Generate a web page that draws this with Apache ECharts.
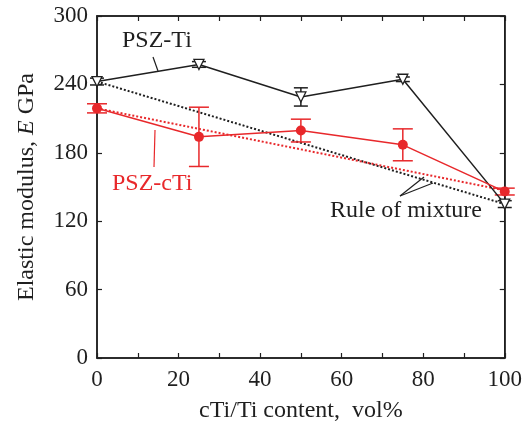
<!DOCTYPE html>
<html><head><meta charset="utf-8">
<script src="https://cdn.jsdelivr.net/npm/echarts@6/dist/echarts.min.js"></script>
<style>html,body{margin:0;padding:0;background:#fff}#c{width:525px;height:430px}</style>
</head><body><div id="c"></div>
<script>
const xValues = [0, 25, 50, 75, 100];
const tiE = [242.5, 257.5, 229, 244.5, 135];
const tiErr = [3, 2.5, 8, 2, 3];
const ctiE = [219, 194, 199.5, 187, 146];
const ctiErr = [4, 26, 10, 14, 3];
const mixTi = [[0, 242.5], [100, 135]];
const mixCti = [[0, 219], [100, 147]];
const xTicks = [0, 20, 40, 60, 80, 100];
const yTicks = [0, 60, 120, 180, 240, 300];

const BLACK = '#1f1f1f', RED = '#e8282b';
const FONT = 'Liberation Serif';

function pts(vals) { return xValues.map((x, i) => [x, vals[i]]); }
function errData(vals, errs) { return xValues.map((x, i) => [x, vals[i] - errs[i], vals[i] + errs[i]]); }
function errSeries(vals, errs, color, cap) {
  return {
    type: 'custom', z: 3, silent: true, clip: false,
    data: errData(vals, errs),
    renderItem: function (params, api) {
      const lo = api.coord([api.value(0), api.value(1)]);
      const hi = api.coord([api.value(0), api.value(2)]);
      const st = { stroke: color, lineWidth: 1.5 };
      return { type: 'group', children: [
        { type: 'line', shape: { x1: lo[0], y1: lo[1], x2: hi[0], y2: hi[1] }, style: st },
        { type: 'line', shape: { x1: lo[0] - cap, y1: lo[1], x2: lo[0] + cap, y2: lo[1] }, style: st },
        { type: 'line', shape: { x1: hi[0] - cap, y1: hi[1], x2: hi[0] + cap, y2: hi[1] }, style: st }
      ]};
    }
  };
}

const chart = echarts.init(document.getElementById('c'));
const axisLine = { show: true, onZero: false, lineStyle: { color: BLACK, width: 1.5 } };
const tick = { show: true, inside: true, length: 5, lineStyle: { color: BLACK, width: 1.2 } };
const minor = { show: true, splitNumber: 2, length: 5, lineStyle: { color: BLACK, width: 1.2 } };
const txt = { color: BLACK, fontFamily: FONT, fontSize: 24 };
chart.setOption({
  animation: false,
  backgroundColor: '#fff',
  grid: { left: 97, right: 17, top: 16, bottom: 72, show: true, borderColor: BLACK, borderWidth: 1.5, backgroundColor: 'transparent' },
  xAxis: [{
    type: 'value', min: xTicks[0], max: xTicks[xTicks.length - 1], interval: 20,
    axisLine, axisTick: tick, minorTick: minor, splitLine: { show: false },
    axisLabel: { color: BLACK, fontFamily: FONT, fontSize: 23, margin: 10 },
    name: 'cTi/Ti content,  vol%', nameLocation: 'middle', nameGap: 41,
    nameTextStyle: txt
  }, {
    type: 'value', position: 'top', min: 0, max: 100, interval: 20,
    axisLine, axisTick: tick, minorTick: minor, splitLine: { show: false },
    axisLabel: { show: false }
  }],
  yAxis: [{
    type: 'value', min: yTicks[0], max: yTicks[yTicks.length - 1], interval: 60,
    axisLine, axisTick: tick, splitLine: { show: false },
    axisLabel: { color: BLACK, fontFamily: FONT, fontSize: 23, margin: 9 },
    name: '{a|Elastic modulus, }{b|E}{a| GPa}', nameLocation: 'middle', nameGap: 58,
    nameTextStyle: Object.assign({}, txt, {
      rich: { a: txt, b: Object.assign({}, txt, { fontStyle: 'italic' }) } })
  }, {
    type: 'value', position: 'right', min: 0, max: 300, interval: 60,
    axisLine, axisTick: tick, splitLine: { show: false }, axisLabel: { show: false }
  }],
  series: [
    { type: 'line', xAxisIndex: 1, yAxisIndex: 1, data: [], symbol: 'none' },
    { type: 'line', data: mixTi, symbol: 'none', z: 1, lineStyle: { color: BLACK, width: 2, type: [2, 2] } },
    { type: 'line', data: mixCti, symbol: 'none', z: 1, lineStyle: { color: RED, width: 2, type: [2, 2] } },
    errSeries(tiE, tiErr, BLACK, 7),
    errSeries(ctiE, ctiErr, RED, 10),
    { type: 'line', data: pts(tiE), z: 4, symbol: 'triangle', symbolRotate: 180, symbolSize: 10, clip: false,
      lineStyle: { color: BLACK, width: 1.5 }, itemStyle: { color: '#fff', borderColor: BLACK, borderWidth: 1.3 } },
    { type: 'line', data: pts(ctiE), z: 4, symbol: 'circle', symbolSize: 10, clip: false,
      lineStyle: { color: RED, width: 1.5 }, itemStyle: { color: RED } }
  ],
  graphic: [
    { type: 'text', left: 122, top: 29, style: { text: 'PSZ-Ti', font: '24px "Liberation Serif"', fill: BLACK } },
    { type: 'line', shape: { x1: 153, y1: 57, x2: 158, y2: 71 }, style: { stroke: BLACK, lineWidth: 1.2 } },
    { type: 'text', left: 112, top: 172, style: { text: 'PSZ-cTi', font: '24px "Liberation Serif"', fill: RED } },
    { type: 'line', shape: { x1: 155, y1: 130, x2: 154, y2: 167 }, style: { stroke: RED, lineWidth: 1.2 } },
    { type: 'text', left: 330, top: 199, style: { text: 'Rule of mixture', font: '24px "Liberation Serif"', fill: BLACK } },
    { type: 'line', shape: { x1: 400, y1: 196, x2: 424, y2: 177 }, style: { stroke: BLACK, lineWidth: 1.2 } },
    { type: 'line', shape: { x1: 400, y1: 196, x2: 433, y2: 183 }, style: { stroke: BLACK, lineWidth: 1.2 } }
  ]
});
</script></body></html>
